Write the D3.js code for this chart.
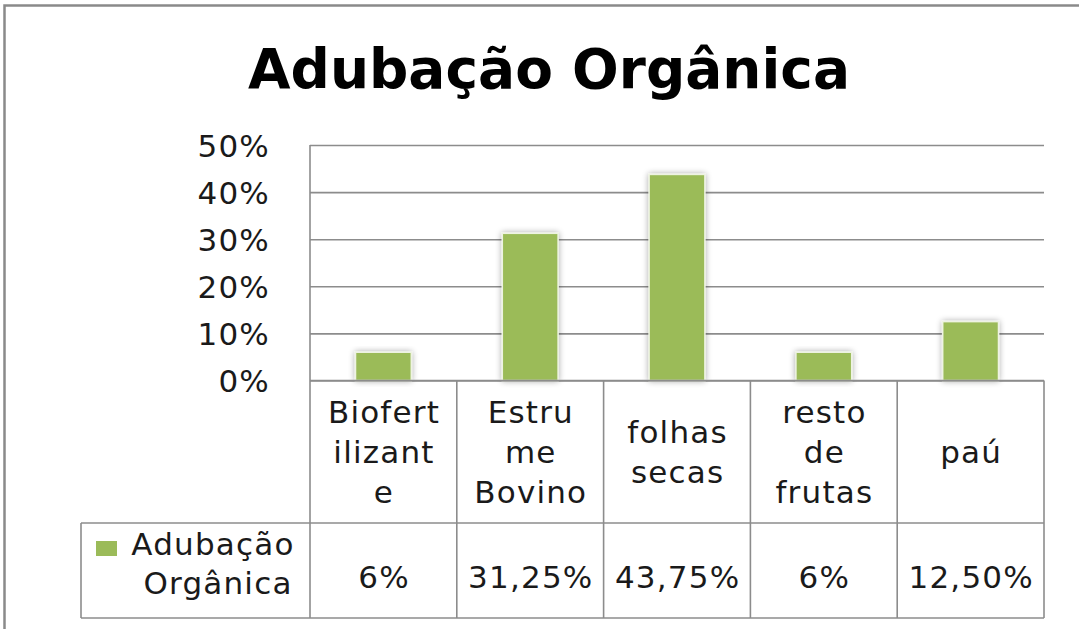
<!DOCTYPE html>
<html>
<head>
<meta charset="utf-8">
<script src="https://cdn.jsdelivr.net/npm/d3@7"></script>
<style>
  html, body { margin: 0; padding: 0; background: #fff; }
  svg { display: block; }
  text { font-family: "DejaVu Sans", sans-serif; fill: #1a1a1a; }
</style>
</head>
<body>
<div id="chart"></div>
<script>
// ---- data ----
const title = "Adubação Orgânica";
const seriesName = "Adubação Orgânica";
const seriesLegendLines = ["Adubação", "Orgânica"];
const categories = ["Biofertilizante", "Estrume Bovino", "folhas secas", "resto de frutas", "paú"];
const categoryLines = [["Biofert", "ilizant", "e"], ["Estru", "me", "Bovino"], ["folhas", "secas"], ["resto", "de", "frutas"], ["paú"]];
const values = [6, 31.25, 43.75, 6, 12.5];
const valueLabels = ["6%", "31,25%", "43,75%", "6%", "12,50%"];
const yTicks = [0, 10, 20, 30, 40, 50];
const yTickLabels = ["0%", "10%", "20%", "30%", "40%", "50%"];

// ---- layout ----
const W = 1079, H = 629;
const plot = { left: 310, right: 1044, top: 145, bottom: 380.5 };
const table = { left: 81, headerBottom: 523, bottom: 618 };
const green = "#9bbb59";
const lineColor = "#8c8c8c";
const fontSize = 31;
const ls = "1.2px";

const svg = d3.select("#chart").append("svg").attr("width", W).attr("height", H);

const defs = svg.append("defs");
const f = defs.append("filter").attr("id", "shadow").attr("x", "-40%").attr("y", "-20%").attr("width", "180%").attr("height", "140%");
f.append("feGaussianBlur").attr("in", "SourceAlpha").attr("stdDeviation", 3).attr("result", "b");
f.append("feComponentTransfer").attr("in", "b").attr("result", "b2")
  .append("feFuncA").attr("type", "linear").attr("slope", 0.35);
const m = f.append("feMerge");
m.append("feMergeNode").attr("in", "b2");
m.append("feMergeNode").attr("in", "SourceGraphic");

// outer border
svg.append("rect").attr("x", 4.5).attr("y", 5.5).attr("width", 1200).attr("height", 800)
  .attr("fill", "none").attr("stroke", "#8a8a8a").attr("stroke-width", 2.5);

// title
svg.append("text").attr("x", 549).attr("y", 88).attr("text-anchor", "middle")
  .attr("font-size", 55).attr("font-weight", "bold").style("fill", "#000")
  .attr("textLength", 602).attr("lengthAdjust", "spacingAndGlyphs")
  .text(title);

// scales
const x = d3.scaleBand().domain(categories).range([plot.left, plot.right])
  .paddingInner(0.62).paddingOuter(0.31);
const y = d3.scaleLinear().domain([0, 50]).range([plot.bottom, plot.top]);

// gridlines + y axis labels
const yAxis = d3.axisLeft(y).tickValues(yTicks)
  .tickSize(-(plot.right - plot.left))
  .tickFormat((d, i) => yTickLabels[i]);
const gy = svg.append("g").attr("transform", `translate(${plot.left},0)`).call(yAxis);
gy.select(".domain").remove();
gy.selectAll(".tick line").attr("stroke", lineColor).attr("stroke-width", 1.6);
gy.selectAll(".tick text").attr("x", -40).attr("dy", "0.36em")
  .attr("font-size", fontSize).style("letter-spacing", ls)
  .style("font-family", '"DejaVu Sans", sans-serif').style("fill", "#1a1a1a");

// vertical axis line
svg.append("line").attr("x1", plot.left).attr("x2", plot.left).attr("y1", plot.top).attr("y2", table.bottom)
  .attr("stroke", lineColor).attr("stroke-width", 1.6);

// bars
svg.append("g").selectAll("rect").data(values).join("rect")
  .attr("x", (d, i) => x(categories[i]))
  .attr("y", d => y(d))
  .attr("width", x.bandwidth())
  .attr("height", d => y(0) - y(d))
  .attr("fill", green)
  .attr("stroke", "#eef3e2").attr("stroke-width", 1.5)
  .attr("filter", "url(#shadow)");

// data table lines
const step = x.step();
const tg = svg.append("g").attr("stroke", lineColor).attr("stroke-width", 1.6);
tg.append("line").attr("x1", plot.left).attr("x2", plot.right).attr("y1", plot.bottom).attr("y2", plot.bottom);
tg.append("line").attr("x1", table.left).attr("x2", plot.right).attr("y1", table.headerBottom).attr("y2", table.headerBottom);
tg.append("line").attr("x1", table.left).attr("x2", plot.right).attr("y1", table.bottom).attr("y2", table.bottom);
tg.append("line").attr("x1", table.left).attr("x2", table.left).attr("y1", table.headerBottom).attr("y2", table.bottom);
categories.forEach((c, i) => {
  const xr = plot.left + step * (i + 1);
  tg.append("line").attr("x1", xr).attr("x2", xr).attr("y1", plot.bottom).attr("y2", table.bottom);
});

// category labels
const lineH = 40;
const headerMid = 451.5;
categories.forEach((c, i) => {
  const cx = plot.left + step * (i + 0.5) + 0.6;
  const lines = categoryLines[i];
  const first = headerMid + 11 - (lines.length - 1) * lineH / 2;
  lines.forEach((l, j) => {
    svg.append("text").attr("x", cx).attr("y", first + j * lineH)
      .attr("text-anchor", "middle").attr("font-size", fontSize).style("letter-spacing", ls).text(l);
  });
  svg.append("text").attr("x", cx).attr("y", 588)
    .attr("text-anchor", "middle").attr("font-size", fontSize).style("letter-spacing", ls).text(valueLabels[i]);
});

// legend cell
svg.append("rect").attr("x", 96).attr("y", 541).attr("width", 21).attr("height", 15).attr("fill", green);
seriesLegendLines.forEach((l, j) => {
  svg.append("text").attr("x", j === 0 ? 213 : 218).attr("y", 555 + j * 39)
    .attr("text-anchor", "middle").attr("font-size", fontSize).style("letter-spacing", ls).text(l);
});
</script>
</body>
</html>
